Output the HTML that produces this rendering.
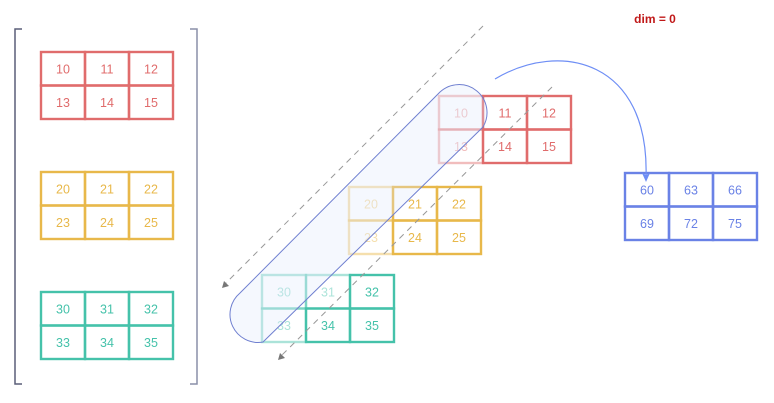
<!DOCTYPE html>
<html><head><meta charset="utf-8"><style>
html,body{margin:0;padding:0;background:#fff;}
svg{display:block;font-family:"Liberation Sans",sans-serif;}
</style></head><body>
<svg id="s" width="774" height="403" viewBox="0 0 774 403">
<g><path d="M22,29 H15 V384 H22" fill="none" stroke="#5a5f78" stroke-width="1.5"/></g>
<g><path d="M190,29 H197 V384 H190" fill="none" stroke="#8a8fa8" stroke-width="1.5"/></g>
<g id="grids"></g>
<g>
<path d="M440,92 L240,293 A28 28 0 0 0 263,342 L483,127 A28 28 0 0 0 440,92 Z" fill="#dfe8fb" fill-opacity="0.3" stroke="#6f7fd0" stroke-width="1"/>
</g>
<g>
<line x1="483" y1="26" x2="224" y2="285" stroke="#999" stroke-dasharray="6,5"/>
<path d="M222,288 l2,-7 l5,5 z" fill="#777"/></g>
<g>
<line x1="552" y1="87" x2="280" y2="357" stroke="#999" stroke-dasharray="6,5"/>
<path d="M278,360 l2,-7 l5,5 z" fill="#777"/></g>
<g>
<path d="M495,79 C560,40 650,60 646,178" fill="none" stroke="#6e8ef5" stroke-width="1.2"/>
<path d="M646,182 l-4,-9 l4,2 l4,-2 z" fill="#6e8ef5"/></g>
<text x="655" y="23" font-size="12" font-weight="bold" fill="#c01818" text-anchor="middle">dim = 0</text>
</svg>
<script>
const grids=[
 {name:'left-grid-red',x:41,y:52,c:'#e06c6c',t:'#e06c6c',v:[10,11,12,13,14,15],fade:[]},
 {name:'left-grid-yellow',x:41,y:172,c:'#e8b84a',t:'#e8b84a',v:[20,21,22,23,24,25],fade:[]},
 {name:'left-grid-teal',x:41,y:292,c:'#45c2aa',t:'#45c2aa',v:[30,31,32,33,34,35],fade:[]},
 {name:'mid-grid-red',x:439,y:96,c:'#e06c6c',t:'#e06c6c',v:[10,11,12,13,14,15],fade:[0,3]},
 {name:'mid-grid-yellow',x:349,y:187,c:'#e8b84a',t:'#e8b84a',v:[20,21,22,23,24,25],fade:[0,3]},
 {name:'mid-grid-teal',x:262,y:275,c:'#45c2aa',t:'#45c2aa',v:[30,31,32,33,34,35],fade:[0,1,3]},
 {name:'result-grid',x:625,y:173,c:'#6a82e6',t:'#6a82e6',v:[60,63,66,69,72,75],fade:[]}
];
const ns='http://www.w3.org/2000/svg';
const root=document.getElementById('grids');
const W=44,H=33.5;
grids.forEach(g=>{
 const gg=document.createElementNS(ns,'g');
 
 
 g.v.forEach((val,i)=>{
  const cx=g.x+(i%3)*W, cy=g.y+Math.floor(i/3)*H;
  const f=g.fade.includes(i);
  const r=document.createElementNS(ns,'rect');
  r.setAttribute('x',cx);r.setAttribute('y',cy);r.setAttribute('width',W);r.setAttribute('height',H);
  r.setAttribute('fill','none');r.setAttribute('stroke',g.c);r.setAttribute('stroke-width','2.4');
  if(f)r.setAttribute('stroke-opacity','0.45');
  
  
  gg.appendChild(r);
  const t=document.createElementNS(ns,'text');
  t.setAttribute('x',cx+W/2);t.setAttribute('y',cy+H/2+4.5);
  t.setAttribute('text-anchor','middle');t.setAttribute('font-size','12.5');
  t.setAttribute('fill',g.t);if(f)t.setAttribute('fill-opacity','0.45');
  t.textContent=val;
  
  
  gg.appendChild(t);
 });
 root.appendChild(gg);
});
</script>
</body></html>
